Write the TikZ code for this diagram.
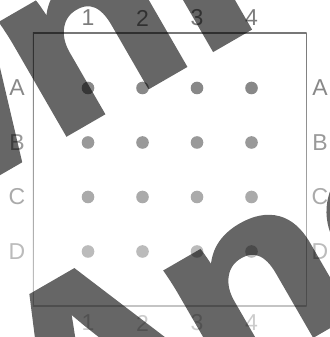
\documentclass[tikz,border=0pt]{standalone}
\usepackage{fontspec}
\usepackage{graphicx}
\setmainfont{Liberation Sans}
\newfontfamily\wmfont{Liberation Sans}[BoldFeatures={FakeBold=2.5}]
\definecolor{cLT}{HTML}{7C7C7C}
\definecolor{cFT}{HTML}{777777}
\definecolor{cFB}{HTML}{C4C4C4}
\definecolor{cA}{HTML}{888888}
\definecolor{cB}{HTML}{999999}
\definecolor{cC}{HTML}{AAAAAA}
\definecolor{cD}{HTML}{BBBBBB}
\definecolor{cLB}{HTML}{CCCCCC}
\begin{document}
\begin{tikzpicture}[x=1pt,y=1pt,
  lbl/.style={font=\fontsize{23}{23}\selectfont, inner sep=0pt},
  gdot/.style={circle, minimum size=12.6pt, inner sep=0pt},
  wm/.style={font=\wmfont\fontsize{241}{241}\selectfont\bfseries, inner sep=0pt, outer sep=0pt, text=black, transform shape}]
\useasboundingbox (0,0) rectangle (329,337);
\clip (0,0) rectangle (329,337);
% frame
\shade[top color=cFT, bottom color=cFB] (32.8,30.5) rectangle (306.5,304.2);
\fill[white] (33.8,31.5) rectangle (305.5,303.2);
% column labels
\foreach \c/\x in {1/88,2/142.5,3/197,4/251.5}{
  \node[lbl, text=cLT] (top\c) at (\x,319) {\c};
  \node[lbl, text=cLB] (bot\c) at (\x,14) {\c};
}
% rows
\foreach \r/\y/\col in {A/249/cA,B/194.5/cB,C/140/cC,D/85.5/cD}{
  \node[lbl, text=\col] (left\r) at (17,\y) {\r};
  \node[lbl, text=\col] (right\r) at (320,\y) {\r};
  \foreach \c/\x in {1/88,2/142.5,3/197,4/251.5}{
    \node[gdot, fill=\col] (d\r\c) at (\x,\y) {};
  }
}
% watermark
\begin{scope}[transparency group, opacity=0.6]
\begin{scope}[shift={(51.2,194.9)}, rotate=30, xscale=1.15]
  \node[wm, anchor=base east] (wmTL) at (0,0) {Dow};
  \node[wm, anchor=base west] (wmTR) at (0,0) {nload};
\end{scope}
\begin{scope}[shift={(49.2,-147.5)}, rotate=30, xscale=1.15]
  \node[wm, anchor=base west] (wmB) at (3.5,-2) {\raisebox{8pt}{A}\kern-11.3pt nonymous};
\end{scope}
\end{scope}
\end{tikzpicture}
\end{document}
